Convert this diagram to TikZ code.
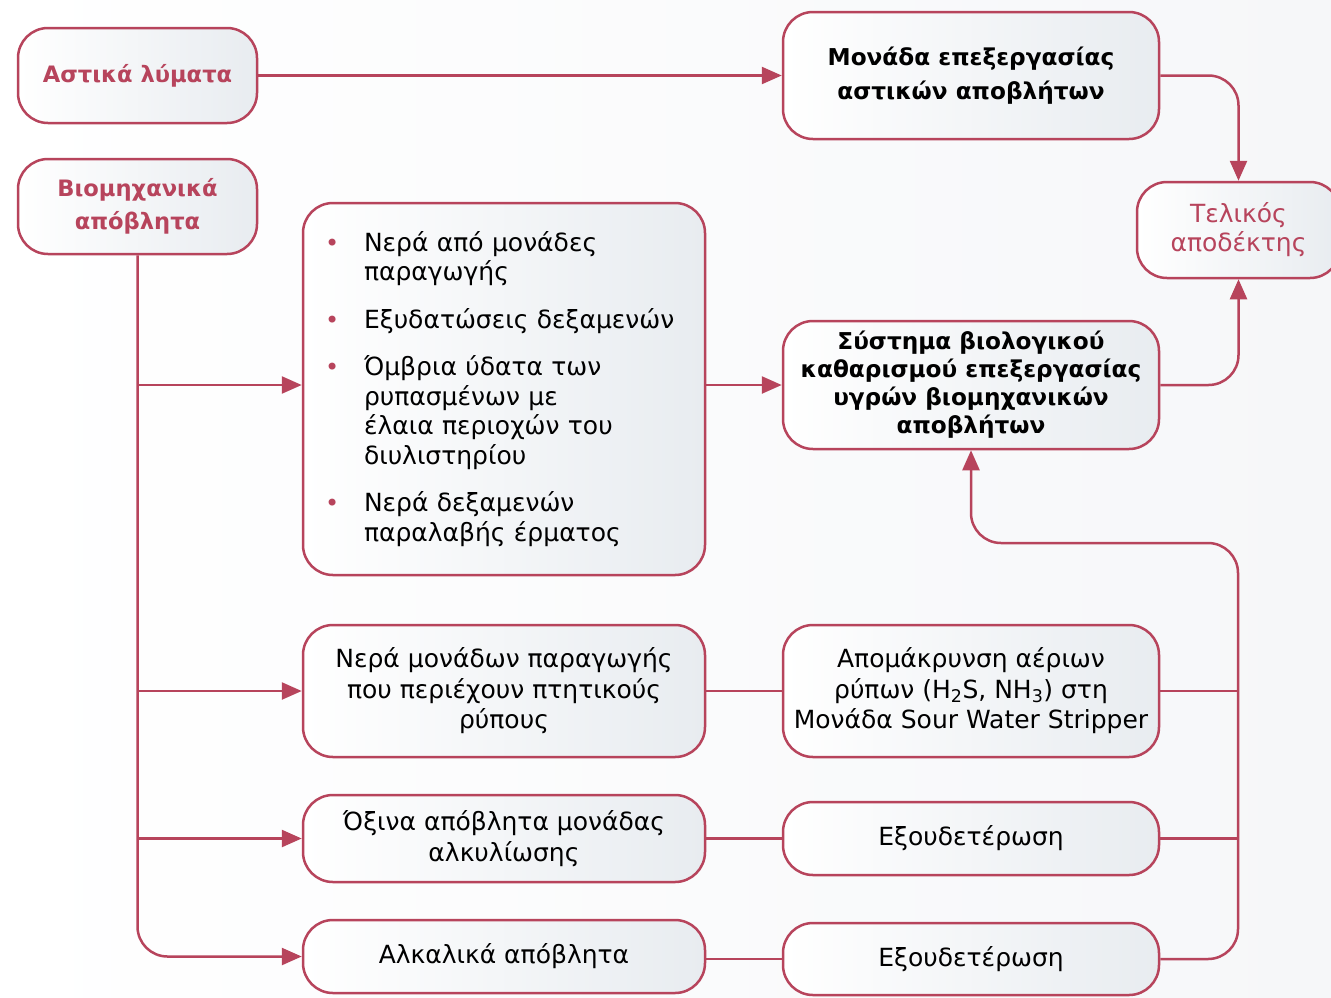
\documentclass[tikz,border=0pt]{standalone}
\usepackage{fontspec}
\setmainfont{DejaVu Sans}
\usetikzlibrary{arrows.meta,calc}
\definecolor{wred}{HTML}{B7445C}
\definecolor{boxr}{HTML}{E8ECF0}
\definecolor{bgr}{HTML}{F6F7F9}
\tikzset{
  box/.style={draw=wred, line width=2.5pt, rounded corners=30pt, left color=white, right color=boxr,
    align=center, inner sep=0pt, text=black, font=\fontsize{25}{30.5}\selectfont},
  boldbox/.style={box, font=\fontsize{23.2}{28}\selectfont\bfseries},
  redbox/.style={box, text=wred, font=\fontsize{22.6}{33}\selectfont\bfseries},
  conn/.style={draw=wred, line width=2.5pt},
  arr/.style={conn, -{Triangle[length=20pt,width=17pt]}},
}
\newcommand{\bul}{\makebox[39pt][l]{\color{wred}\fontsize{24}{24}\selectfont •}}
\newcommand{\nob}{\hspace*{39pt}}
\begin{document}
\begin{tikzpicture}[x=1pt,y=-1pt]
\shade[left color=white, right color=bgr] (0,0) rectangle (1331,997);
\useasboundingbox (0,0) rectangle (1331,997);

\node[redbox, minimum width=239pt, minimum height=95pt] (A) at (137.5,75.5) {Αστικά λύματα};
\node[redbox, minimum width=239pt, minimum height=95pt] (B) at (137.5,206.5) {Βιομηχανικά\\απόβλητα};
\node[boldbox, minimum width=376pt, minimum height=127pt, font=\fontsize{23.2}{34}\selectfont\bfseries] (M) at (971,75.5) {Μονάδα επεξεργασίας\\αστικών αποβλήτων};
\node[box, text=wred, minimum width=203pt, minimum height=96pt, font=\fontsize{25}{29}\selectfont] (T) at (1238.5,230) {Τελικός\\αποδέκτης};

\node[box, minimum width=402pt, minimum height=372pt, text width=358pt, align=left,
  font=\fontsize{25}{29.5}\selectfont] (L) at (504,389)
  {\bul Νερά από μονάδες\\ \nob παραγωγής\\[18pt]
   \bul Εξυδατώσεις δεξαμενών\\[18pt]
   \bul Όμβρια ύδατα των\\ \nob ρυπασμένων με\\ \nob έλαια περιοχών του\\ \nob διυλιστηρίου\\[18pt]
   \bul Νερά δεξαμενών\\ \nob παραλαβής έρματος};

\node[boldbox, minimum width=376pt, minimum height=128pt] (S) at (971,385)
  {Σύστημα βιολογικού\\καθαρισμού επεξεργασίας\\υγρών βιομηχανικών\\αποβλήτων};

\node[box, minimum width=402pt, minimum height=132pt] (N) at (504,691)
  {Νερά μονάδων παραγωγής\\που περιέχουν πτητικούς\\ρύπους};
\node[box, minimum width=376pt, minimum height=132pt] (R) at (971,691)
  {Απομάκρυνση αέριων\\ρύπων (H\textsubscript{2}S, NH\textsubscript{3}) στη\\Μονάδα Sour Water Stripper};

\node[box, minimum width=402pt, minimum height=87pt] (O) at (504,838.5)
  {Όξινα απόβλητα μονάδας\\αλκυλίωσης};
\node[box, minimum width=376pt, minimum height=73pt] (E1) at (971,838.5) {Εξουδετέρωση};

\node[box, minimum width=402pt, minimum height=73pt] (K) at (504,956.5) {Αλκαλικά απόβλητα};
\node[box, minimum width=376pt, minimum height=72pt] (E2) at (971,959) {Εξουδετέρωση};

\coordinate (cx) at (1238,543);

\draw[arr] (A.east) -- (M.west);
\draw[arr, rounded corners=30pt] (M.east) -| (T.north);
\draw[arr, rounded corners=30pt] (S.east) -| (T.south);

\draw[arr, rounded corners=30pt] (B.south) |- (K.west);
\draw[arr] (B.south |- S.west) -- (L.west |- S.west);
\draw[arr] (B.south |- N.west) -- (N.west);
\draw[arr] (B.south |- O.west) -- (O.west);

\draw[arr] (L.east |- S.west) -- (S.west);
\draw[conn] (N.east) -- (R.west);
\draw[conn] (O.east) -- (E1.west);
\draw[conn] (E2.west -| K.east) -- (E2.west);

\draw[arr, rounded corners=30pt] (E2.east) -| (cx) -| (S.south);
\draw[conn] (R.east) -- (R.east -| cx);
\draw[conn] (E1.east) -- (E1.east -| cx);
\end{tikzpicture}
\end{document}
